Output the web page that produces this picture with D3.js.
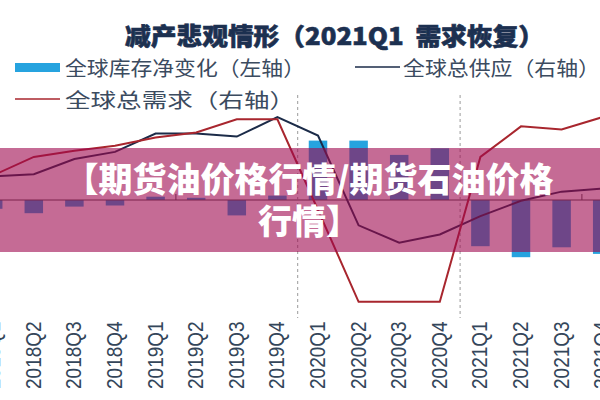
<!DOCTYPE html>
<html>
<head>
<meta charset="utf-8">
<script src="https://cdn.jsdelivr.net/npm/d3@7/dist/d3.min.js"></script>
<style>
  html, body { margin: 0; padding: 0; background: #fff; }
  svg { display: block; }
  text { white-space: pre; }
</style>
</head>
<body>
<svg id="chart"></svg>
<script>
const quarters = ['2018Q1','2018Q2','2018Q3','2018Q4','2019Q1','2019Q2','2019Q3','2019Q4',
                  '2020Q1','2020Q2','2020Q3','2020Q4','2021Q1','2021Q2','2021Q3','2021Q4'];
// 全球库存净变化 (left axis)
const inventoryChange = [-0.4, -0.6, -0.3, -0.25, 0.15, 0.1, -0.7, 0.2, 2.7, 2.7, 2.05, 2.35, -2.1, -2.6, -2.15, -2.45];
// 全球总供应 (right axis)
const supply = [95.3, 95.5, 97.0, 97.7, 99.5, 99.5, 99.2, 101.1, 99.3, 90.5, 88.8, 89.6, 91.4, 92.9, 93.8, 94.1];
// 全球总需求 (right axis)
const demand = [95.4, 97.2, 97.8, 98.3, 99.1, 99.6, 100.9, 100.9, 92.0, 83.0, 83.0, 83.0, 97.2, 100.2, 99.9, 101.1];
const dividerAfter = ['2019Q4', '2020Q4'];
const zeroTickAfter = ['2019Q1', '2021Q3'];

const title = '减产悲观情形（2021Q1  需求恢复）';
const legendNames = ['全球库存净变化（左轴）', '全球总供应（右轴）', '全球总需求（右轴）'];
const bannerLines = ['【期货油价格行情/期货石油价格', '行情】'];

const width = 600, height = 400;
const colors = {bar: '#26a3df', supply: '#1b2b48', demand: '#a8262e'};

const svg = d3.select('#chart').attr('width', width).attr('height', height);

const x = d3.scalePoint().domain(quarters).range([-27.1, 622.5]).padding(0.5);
const yL = d3.scaleLinear().domain([-3, 3]).range([266, 134]);
const yR = d3.scaleLinear().domain([82, 102]).range([312, 108]);
const step = x.step();
const barW = 18.5;

// bars
svg.append('g').selectAll('rect').data(quarters).enter()
  .append('rect')
  .attr('x', d => x(d) - barW / 2)
  .attr('width', barW)
  .attr('y', (d, i) => yL(Math.max(0, inventoryChange[i])))
  .attr('height', (d, i) => Math.abs(yL(inventoryChange[i]) - yL(0)))
  .attr('fill', colors.bar);

// zero line with a couple of tick marks
svg.append('line').attr('x1', 0).attr('x2', width)
  .attr('y1', yL(0)).attr('y2', yL(0))
  .attr('stroke', '#4a4a4a').attr('stroke-width', 1);
svg.append('g').selectAll('line').data(zeroTickAfter).enter()
  .append('line')
  .attr('x1', d => x(d) + step / 2).attr('x2', d => x(d) + step / 2)
  .attr('y1', yL(0)).attr('y2', yL(0) - 6)
  .attr('stroke', '#4a4a4a');

// dashed dividers
svg.append('g').selectAll('line').data(dividerAfter).enter()
  .append('line')
  .attr('x1', d => x(d) + step / 2).attr('x2', d => x(d) + step / 2)
  .attr('y1', 95).attr('y2', 318)
  .attr('stroke', '#9a9a9a').attr('stroke-dasharray', '3,3');

// lines
const line = d3.line().x((d, i) => x(quarters[i])).y(d => yR(d));
svg.append('path').datum(supply).attr('d', line)
  .attr('fill', 'none').attr('stroke', colors.supply).attr('stroke-width', 2);
svg.append('path').datum(demand).attr('d', line)
  .attr('fill', 'none').attr('stroke', colors.demand).attr('stroke-width', 2);

// category labels
svg.append('g').selectAll('text').data(quarters).enter()
  .append('text')
  .attr('transform', d => `translate(${x(d) + 7},389) scale(1.13,1) rotate(-90)`)
  .attr('font-family', 'Liberation Sans, Arial, sans-serif')
  .attr('font-size', 19)
  .attr('fill', '#34465a')
  .text(d => d);

// title
svg.append('text')
  .attr('x', 125).attr('y', 45)
  .attr('textLength', 419).attr('lengthAdjust', 'spacingAndGlyphs')
  .attr('font-family', 'Noto Sans CJK SC, sans-serif')
  .attr('font-weight', 900).attr('font-size', 24)
  .attr('stroke', '#1c3050').attr('stroke-width', 0.6)
  .attr('fill', '#1c3050')
  .text(title);

// legend
const lg = svg.append('g')
  .attr('font-family', 'Noto Sans CJK SC, sans-serif')
  .attr('font-size', 20).attr('fill', '#3b4b5f');
lg.append('rect').attr('x', 15).attr('y', 63).attr('width', 45).attr('height', 9).attr('fill', colors.bar);
lg.append('text').attr('x', 65).attr('y', 76)
  .attr('textLength', 240).attr('lengthAdjust', 'spacingAndGlyphs').text(legendNames[0]);
lg.append('line').attr('x1', 355).attr('x2', 400).attr('y1', 67).attr('y2', 67)
  .attr('stroke', colors.supply).attr('stroke-width', 1.5);
lg.append('text').attr('x', 403).attr('y', 76)
  .attr('textLength', 197).attr('lengthAdjust', 'spacingAndGlyphs').text(legendNames[1]);
lg.append('line').attr('x1', 15).attr('x2', 60).attr('y1', 99).attr('y2', 99)
  .attr('stroke', colors.demand).attr('stroke-width', 1.5);
lg.append('text').attr('x', 65).attr('y', 108)
  .attr('textLength', 230).attr('lengthAdjust', 'spacingAndGlyphs').text(legendNames[2]);

// banner overlay
svg.append('rect').attr('x', 0).attr('y', 148).attr('width', width).attr('height', 104)
  .attr('fill', 'rgba(158,8,78,0.6)');
svg.append('g').selectAll('text').data(bannerLines).enter()
  .append('text')
  .attr('x', 309).attr('y', (d, i) => 192 + i * 42)
  .attr('text-anchor', 'middle')
  .attr('font-family', 'Noto Sans CJK SC, sans-serif')
  .attr('font-weight', 900).attr('font-size', 34)
  .attr('fill', '#fff')
  .text(d => d);
</script>
</body>
</html>
